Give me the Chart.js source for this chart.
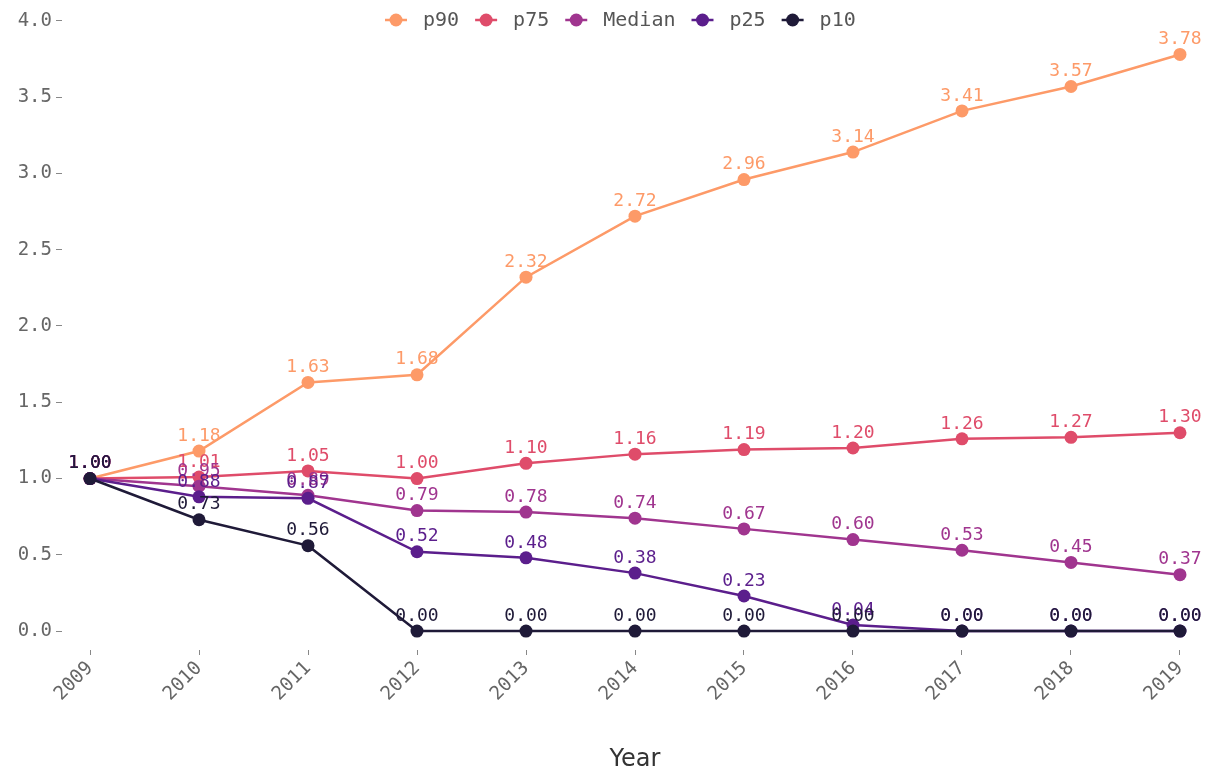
<!DOCTYPE html>
<html lang="en">
<head>
<meta charset="UTF-8">
<title>Percentiles by Year</title>
<style>
    body { margin: 0; background: #fff; }
    .chart-container { position: relative; width: 1215px; height: 774px; }
</style>
<script src="https://cdn.jsdelivr.net/npm/chart.js"></script>
</head>
<body>
<div class="chart-container">
    <canvas id="pctChart"></canvas>
</div>
<script>
    const years = [2009, 2010, 2011, 2012, 2013, 2014, 2015, 2016, 2017, 2018, 2019];
    const p90 = [1.00, 1.18, 1.63, 1.68, 2.32, 2.72, 2.96, 3.14, 3.41, 3.57, 3.78];
    const p75 = [1.00, 1.01, 1.05, 1.00, 1.10, 1.16, 1.19, 1.20, 1.26, 1.27, 1.30];
    const median = [1.00, 0.95, 0.89, 0.79, 0.78, 0.74, 0.67, 0.60, 0.53, 0.45, 0.37];
    const p25 = [1.00, 0.88, 0.87, 0.52, 0.48, 0.38, 0.23, 0.04, 0.00, 0.00, 0.00];
    const p10 = [1.00, 0.73, 0.56, 0.00, 0.00, 0.00, 0.00, 0.00, 0.00, 0.00, 0.00];
    const seriesNames = ['p90', 'p75', 'Median', 'p25', 'p10'];
    const yTicks = [0, 0.5, 1, 1.5, 2, 2.5, 3, 3.5, 4];

    const colors = ['#fd9a68', '#df4c6a', '#a0358f', '#5b1e8c', '#1f1a38'];
    const mono = '"DejaVu Sans Mono", monospace';

    // later series sit on top, like ggplot draws them
    function makeSet(label, values, color, order) {
        return {
            label: label,
            data: years.map((yr, i) => ({ x: yr, y: values[i] })),
            order: order,
            borderColor: color,
            backgroundColor: color,
            borderWidth: 2.5,
            pointRadius: 6.5,
            pointHoverRadius: 6.5,
            pointBorderWidth: 0,
            tension: 0
        };
    }

    // value labels above every point, plus ggplot-style legend on top
    const labelPlugin = {
        id: 'labels',
        afterDatasetsDraw(chart) {
            const ctx = chart.ctx;
            ctx.save();
            ctx.font = '18px ' + mono;
            ctx.textAlign = 'center';
            ctx.textBaseline = 'bottom';
            chart.data.datasets.forEach((ds, i) => {
                const meta = chart.getDatasetMeta(i);
                ctx.fillStyle = ds.borderColor;
                meta.data.forEach((pt, j) => {
                    ctx.fillText(ds.data[j].y.toFixed(2), pt.x, pt.y - 6);
                });
            });

            // legend
            ctx.font = '20px ' + mono;
            ctx.textAlign = 'left';
            ctx.textBaseline = 'middle';
            const ly = 20;
            let x = 385;
            seriesNames.forEach((n, i) => {
                const c = colors[i];
                ctx.strokeStyle = c;
                ctx.lineWidth = 2.5;
                ctx.beginPath();
                ctx.moveTo(x, ly);
                ctx.lineTo(x + 22, ly);
                ctx.stroke();
                ctx.fillStyle = c;
                ctx.beginPath();
                ctx.arc(x + 11, ly, 6.5, 0, Math.PI * 2);
                ctx.fill();
                ctx.fillStyle = '#555';
                ctx.fillText(n, x + 38, ly + 1);
                x += 38 + ctx.measureText(n).width + 16;
            });
            ctx.restore();
        }
    };

    new Chart(document.getElementById('pctChart'), {
        type: 'line',
        data: {
            datasets: [
                makeSet('p90', p90, colors[0], 4),
                makeSet('p75', p75, colors[1], 3),
                makeSet('Median', median, colors[2], 2),
                makeSet('p25', p25, colors[3], 1),
                makeSet('p10', p10, colors[4], 0)
            ]
        },
        options: {
            responsive: true,
            maintainAspectRatio: false,
            animation: false,
            layout: { padding: { top: 0, right: 7, left: 0, bottom: 0 } },
            plugins: {
                legend: { display: false },
                tooltip: { enabled: false }
            },
            scales: {
                x: {
                    type: 'linear',
                    min: 2008.743,
                    max: 2019.257,
                    afterBuildTicks(scale) {
                        scale.ticks = years.map(v => ({ value: v }));
                    },
                    grid: { drawOnChartArea: false, drawTicks: true, tickLength: 5, color: '#888', lineWidth: 1 },
                    border: { display: false },
                    ticks: {
                        minRotation: 45,
                        maxRotation: 45,
                        color: '#666',
                        padding: 2,
                        font: { family: mono, size: 19 },
                        callback: v => String(v)
                    },
                    title: {
                        display: true,
                        text: 'Year',
                        color: '#333',
                        font: { family: '"DejaVu Sans", sans-serif', size: 24 },
                        padding: { top: 20, bottom: 0 }
                    },
                    afterFit(scale) { scale.height = 124; }
                },
                y: {
                    min: -0.124,
                    max: 4.036,
                    afterBuildTicks(scale) {
                        scale.ticks = yTicks.map(v => ({ value: v }));
                    },
                    grid: { drawOnChartArea: false, drawTicks: true, tickLength: 6, color: '#888', lineWidth: 1 },
                    border: { display: false },
                    ticks: {
                        color: '#666',
                        padding: 4,
                        font: { family: mono, size: 19 },
                        callback: v => Number(v).toFixed(1)
                    },
                    afterFit(scale) { scale.width = 62; }
                }
            }
        },
        plugins: [labelPlugin]
    });
</script>
</body>
</html>
